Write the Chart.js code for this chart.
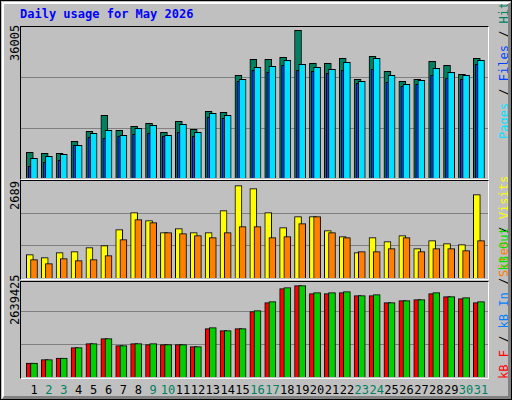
<!DOCTYPE html>
<html><head><meta charset="utf-8">
<script src="https://cdn.jsdelivr.net/npm/chart.js@4"></script>
<style>
html,body{margin:0;padding:0;background:#fff}
#wrap{position:absolute;left:0;top:0;width:510px;height:398px;background:#c0c0c0;border:1px solid #000;overflow:hidden}
#wrap:after{content:"";position:absolute;left:1px;top:1px;right:0;bottom:0;border-left:2px solid #fff;border-top:2px solid #fff;border-right:3px solid #808080;border-bottom:3px solid #808080;pointer-events:none}
.t{position:absolute;font-family:"DejaVu Sans Mono",monospace;white-space:nowrap}
.panel{position:absolute;left:19px;width:467px;border-left:1px solid #000;border-top:1px solid #000;border-right:1px solid #fff;border-bottom:1px solid #fff}
.grid{position:absolute;left:20px;width:467px;height:0;border-top:1px solid #808080}
canvas{position:absolute}
.rot{position:absolute;transform-origin:0 0;transform:rotate(-90deg);font-family:"DejaVu Sans Mono",monospace;font-size:12px;white-space:nowrap}
</style></head><body>
<div id="wrap"></div>
<script>
const days=[1,2,3,4,5,6,7,8,9,10,11,12,13,14,15,16,17,18,19,20,21,22,23,24,25,26,27,28,29,30,31];
const weekend=[2,3,9,10,16,17,23,24,30,31];
const hits=[6127,5888,5888,8749,11133,14948,11372,12325,13040,10895,13517,11610,15901,15663,24484,28298,28298,28775,35212,27344,27344,28536,23530,29013,25437,23053,23530,27821,26868,24722,28536];
const files=[2789,3743,4220,7796,9703,9464,9941,10418,10656,9941,10895,9941,14471,14232,23053,25676,25199,26868,25676,25437,24960,25676,22576,25914,22815,21861,22338,24484,23768,23530,27106];
const pages=[4696,5173,5650,7796,10656,11372,10180,11848,12564,10180,12802,10895,15424,14948,23530,26391,26629,28060,27106,26391,25914,27583,23053,28536,24484,22338,23292,26152,25199,24484,28060];
const visits=[640,558,695,722,832,887,1326,1793,1573,1244,1354,1244,1244,1847,2533,2451,1793,1381,1683,1683,1299,1134,695,1107,997,1162,805,1024,942,915,2287];
const sites=[503,393,530,476,503,613,1052,1601,1518,1244,1216,1162,1107,1244,1408,1408,1107,1134,1491,1683,1244,1107,722,722,805,1107,722,805,805,750,1024];
const kbF=[373254,462124,506559,782056,888700,1022005,835378,888700,862039,862039,862039,808717,1288615,1235293,1288615,1741852,1981801,2355055,2435038,2221750,2221750,2248411,2168428,2168428,1981801,2035123,2061784,2221750,2141767,2088445,1981801];
const kbOut=[373254,462124,506559,782056,888700,1022005,835378,888700,888700,862039,862039,808717,1315276,1235293,1288615,1768513,2008462,2381716,2435038,2248411,2248411,2275072,2168428,2195089,1981801,2035123,2061784,2248411,2141767,2115106,2008462];
const maxHits=36005, maxVisits=2689, maxKB=2639425;
const title="Daily usage for May 2026";

const wrap=document.getElementById('wrap');
function add(html){wrap.insertAdjacentHTML('beforeend',html);}
add(`<div class="t" style="left:19px;top:6px;font-size:12px;font-weight:bold;color:#0000ff">${title}</div>`);
// panels: [top,bottom(baseline)]
const panels=[[25,178],[179,278],[280,377]];
panels.forEach(p=>add(`<div class="panel" style="top:${p[0]}px;height:${p[1]-p[0]-1}px"></div>`));
function grids(base,h){[1,2].forEach(k=>add(`<div class="grid" style="top:${Math.round(base-h*k/3)}px"></div>`));}
grids(177,151);grids(277,98);grids(376,99);
add(`<div class="rot" style="left:7px;top:60px">${maxHits}</div>`);
add(`<div class="rot" style="left:7px;top:209px">${maxVisits}</div>`);
add(`<div class="rot" style="left:7px;top:324px">${maxKB}</div>`);
add(`<div class="rot" style="left:496px;top:138px"><span style="color:#00e0ff">Pages</span><span style="color:#000"> / </span><span style="color:#0040ff">Files</span><span style="color:#000"> / </span><span style="color:#008060">Hits</span></div>`);
add(`<div class="rot" style="left:496px;top:276px"><span style="color:#ff8000">Sites</span><span style="color:#000"> / </span><span style="color:#ffff00">Visits</span></div>`);
add(`<div class="rot" style="left:496px;top:378px"><span style="color:#ff0000">kB F</span><span style="color:#000"> / </span><span style="color:#0080ff">kB In</span><span style="color:#000"> / </span><span style="color:#00e000">kB Out</span></div>`);
days.forEach(d=>{const x=33+(d-1)*14.9;add(`<div class="t" style="left:${x-10}px;width:20px;text-align:center;top:382px;font-size:12px;color:${weekend.includes(d)?'#008060':'#000'}">${d}</div>`);});

function mk(top,h,max,sets){
  const c=document.createElement('canvas');c.width=466;c.height=h;c.style.left='21px';c.style.top=top+'px';c.style.width='466px';c.style.height=h+'px';wrap.appendChild(c);
  new Chart(c,{type:'bar',data:{datasets:sets.map(s=>({data:s.v.map((v,i)=>({x:days[i]+s.o,y:v})),backgroundColor:s.c,borderColor:'#000',borderWidth:1,barThickness:s.w,grouped:false}))},
   options:{responsive:false,devicePixelRatio:1,animation:false,events:[],layout:{padding:0},
    plugins:{legend:{display:false},tooltip:{enabled:false}},
    scales:{x:{type:'linear',display:false,min:0.195,max:31.47,offset:false},y:{display:false,min:0,max:max}}}});
}
mk(26,151,maxHits,[{v:pages,c:'#00e0ff',o:0,w:7},{v:files,c:'#0040ff',o:-0.15,w:7},{v:hits,c:'#008060',o:-0.28,w:7}]);
mk(179,98,maxVisits,[{v:sites,c:'#ff8000',o:0,w:7},{v:visits,c:'#ffff00',o:-0.28,w:7}]);
mk(277,99,maxKB,[{v:kbOut,c:'#00d000',o:0,w:7},{v:kbF,c:'#ff0000',o:-0.28,w:7}]);
</script></body></html>
